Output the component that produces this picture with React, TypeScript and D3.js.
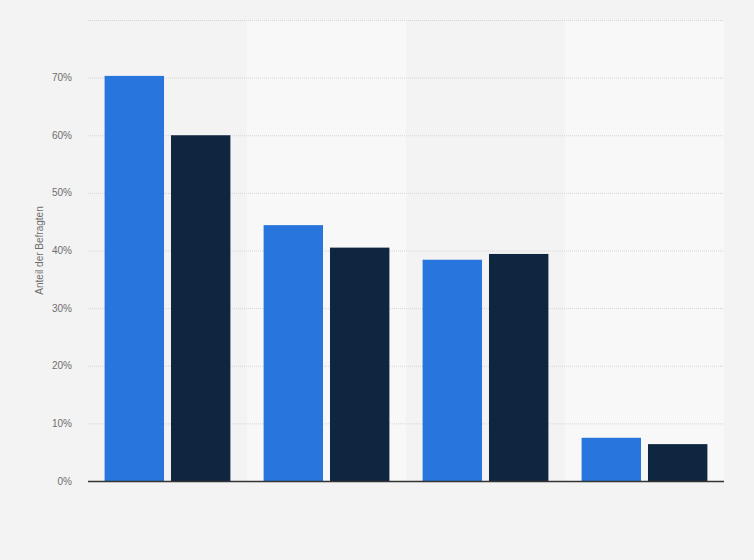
import { useEffect, useRef } from 'react';
import * as d3 from 'd3';

const categories = ['A', 'B', 'C', 'D'];
const seriesNames = ['Serie 1', 'Serie 2'];
const series1 = [70.3, 44.4, 38.4, 7.5];
const series2 = [60.0, 40.5, 39.4, 6.4];
const yTicks = [0, 10, 20, 30, 40, 50, 60, 70];
const gridTicks = [0, 10, 20, 30, 40, 50, 60, 70, 80];
const colors = ['#2876dd', '#0f2640'];

const App = () => {
  const ref = useRef<SVGSVGElement>(null);

  useEffect(() => {
    const width = 754;
    const height = 560;
    const margin = { top: 20, right: 30, bottom: 79, left: 88 };

    const svg = d3.select(ref.current);
    svg.selectAll('*').remove();

    svg
      .append('rect')
      .attr('width', width)
      .attr('height', height)
      .attr('fill', '#f3f3f3');

    const x = d3
      .scaleBand()
      .domain(categories)
      .range([margin.left, width - margin.right])
      .padding(0);

    const xSub = d3
      .scaleBand()
      .domain(seriesNames)
      .range([0, x.bandwidth()])
      .paddingInner(0.105)
      .paddingOuter(0.25);

    const y = d3
      .scaleLinear()
      .domain([0, 80])
      .range([height - margin.bottom, margin.top]);

    // alternating band backgrounds
    svg
      .append('g')
      .selectAll('rect')
      .data(categories.filter((_, i) => i % 2 === 1))
      .join('rect')
      .attr('x', (d) => x(d)!)
      .attr('y', y(80))
      .attr('width', x.bandwidth())
      .attr('height', y(0) - y(80))
      .attr('fill', '#f8f8f8');

    // grid
    svg
      .append('g')
      .selectAll('line')
      .data(gridTicks.slice(1))
      .join('line')
      .attr('x1', margin.left)
      .attr('x2', width - margin.right)
      .attr('y1', (d) => y(d) + 0.5)
      .attr('y2', (d) => y(d) + 0.5)
      .attr('stroke', '#d4d4d4')
      .attr('stroke-width', 1)
      .attr('stroke-dasharray', '1,1');

    // bars
    const data = categories.map((c, i) => ({
      cat: c,
      values: [
        { name: seriesNames[0], value: series1[i] },
        { name: seriesNames[1], value: series2[i] },
      ],
    }));

    svg
      .append('g')
      .selectAll('g')
      .data(data)
      .join('g')
      .attr('transform', (d) => `translate(${x(d.cat)},0)`)
      .selectAll('rect')
      .data((d) => d.values)
      .join('rect')
      .attr('x', (d) => xSub(d.name)!)
      .attr('y', (d) => y(d.value))
      .attr('width', xSub.bandwidth())
      .attr('height', (d) => y(0) - y(d.value))
      .attr('fill', (_, i) => colors[i]);

    // baseline
    svg
      .append('line')
      .attr('x1', margin.left)
      .attr('x2', width - margin.right)
      .attr('y1', y(0) + 0.5)
      .attr('y2', y(0) + 0.5)
      .attr('stroke', '#333')
      .attr('stroke-width', 1.5);

    // y tick labels
    svg
      .append('g')
      .selectAll('text')
      .data(yTicks)
      .join('text')
      .attr('x', 72)
      .attr('y', (d) => y(d))
      .attr('dy', '0.35em')
      .attr('text-anchor', 'end')
      .attr('font-family', '"Liberation Sans", Arial, sans-serif')
      .attr('font-size', 10)
      .attr('fill', '#6e6e6e')
      .text((d) => `${d}%`);

    // y axis title
    svg
      .append('text')
      .attr('transform', `translate(43,${(y(0) + y(80)) / 2}) rotate(-90)`)
      .attr('text-anchor', 'middle')
      .attr('font-family', '"Liberation Sans", Arial, sans-serif')
      .attr('font-size', 10)
      .attr('fill', '#6e6e6e')
      .text('Anteil der Befragten');
  }, []);

  return (
    <svg
      ref={ref}
      width={754}
      height={560}
      style={{ position: 'absolute', left: 0, top: 0 }}
    />
  );
};

export default App;
